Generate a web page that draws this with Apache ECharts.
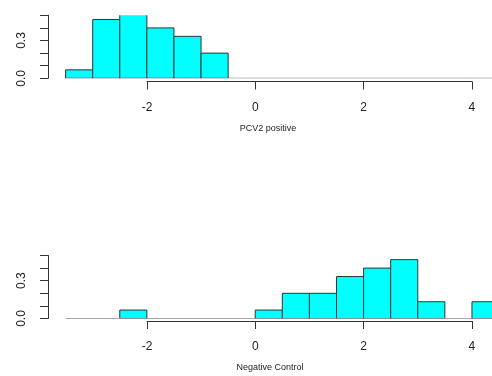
<!DOCTYPE html>
<html>
<head>
<meta charset="utf-8">
<script src="https://cdn.jsdelivr.net/npm/echarts@6/dist/echarts.min.js"></script>
<style>
html,body{margin:0;padding:0;background:#fff;}
#chart{width:492px;height:376px;}
</style>
</head>
<body>
<div id="chart"></div>
<script>
// Histogram bin breaks (shared by both panels)
const breaks = [-3.5,-3,-2.5,-2,-1.5,-1,-0.5,0,0.5,1,1.5,2,2.5,3,3.5,4,4.5];
// Densities per bin
const pcv2Density = [0.067,0.467,0.533,0.4,0.333,0.2,0,0,0,0,0,0,0,0,0,0];
const negDensity  = [0,0,0.067,0,0,0,0,0.067,0.2,0.2,0.333,0.4,0.467,0.133,0,0.133];
// Axis ticks / labels
const xTicks = [-2,0,2,4];
const yLabels = ['0.0','0.3'];
const titles = ['PCV2 positive','Negative Control'];

function binsData(dens){
  return dens.map((d,i)=>[breaks[i], breaks[i+1], d]);
}

function renderItem(params, api){
  const x0 = api.value(0), x1 = api.value(1), h = api.value(2);
  const p0 = api.coord([x0, 0]);
  const p1 = api.coord([x1, h]);
  if (h <= 0){
    return {type:'line', shape:{x1:p0[0], y1:p0[1], x2:p1[0], y2:p0[1]},
      style:{stroke:'#555', lineWidth:1}};
  }
  return {type:'rect', shape:{x:p0[0], y:p1[1], width:p1[0]-p0[0], height:p0[1]-p1[1]},
    style:{fill:'#00ffff', stroke:'#333', lineWidth:1}};
}

const xMin = -3.5, xMax = 4.37;
const dataLeft = 65.6;
const axLeft = 147, axWidth = 324.9;

function dataX(gi){ return {gridIndex:gi, type:'value', min:xMin, max:xMax, show:false}; }
function visX(gi){
  return {gridIndex:gi, type:'value', min:-2, max:4, interval:2,
    axisLine:{show:true, onZero:false, lineStyle:{color:'#333', width:1}},
    axisTick:{show:true, length:8, lineStyle:{color:'#333'}},
    splitLine:{show:false},
    axisLabel:{fontFamily:'Liberation Sans, Arial, sans-serif', fontSize:12, color:'#222', margin:20,
      formatter: v => xTicks.includes(v) ? String(v) : ''}};
}
function visY(gi){
  return {gridIndex:gi, type:'value', min:0, max:0.5, interval:0.1, offset:17.6,
    axisLine:{show:true, onZero:false, lineStyle:{color:'#333', width:1}},
    axisTick:{show:true, length:8, lineStyle:{color:'#333'}},
    splitLine:{show:false},
    axisLabel:{rotate:90, fontFamily:'Liberation Sans, Arial, sans-serif', fontSize:12, color:'#222', margin:20,
      formatter: v => {
        const s = v.toFixed(1);
        return yLabels.includes(s) ? s : '';
      }}};
}
function hidY(gi){ return {gridIndex:gi, type:'value', show:false}; }

const option = {
  animation:false,
  grid:[
    {left:dataLeft, right:0, top:15.3, height:63},
    {left:axLeft, width:axWidth, top:60, height:21.5},
    {left:dataLeft, right:0, top:255.5, height:63},
    {left:axLeft, width:axWidth, top:300, height:21}
  ],
  xAxis:[dataX(0), visX(1), dataX(2), visX(3)],
  yAxis:[visY(0), hidY(1), visY(2), hidY(3)],
  series:[
    {type:'custom', xAxisIndex:0, yAxisIndex:0, renderItem, data:binsData(pcv2Density), clip:true},
    {type:'custom', xAxisIndex:2, yAxisIndex:2, renderItem, data:binsData(negDensity), clip:true}
  ],
  graphic:[
    {type:'text', x:268, y:129, style:{text:titles[0], fontFamily:'Liberation Sans, Arial, sans-serif', fontSize:9, fill:'#222', align:'center', verticalAlign:'middle'}},
    {type:'text', x:270, y:368, style:{text:titles[1], fontFamily:'Liberation Sans, Arial, sans-serif', fontSize:9, fill:'#222', align:'center', verticalAlign:'middle'}}
  ]
};
const chart = echarts.init(document.getElementById('chart'), null, {renderer:'canvas'});
chart.setOption(option);
</script>
</body>
</html>
